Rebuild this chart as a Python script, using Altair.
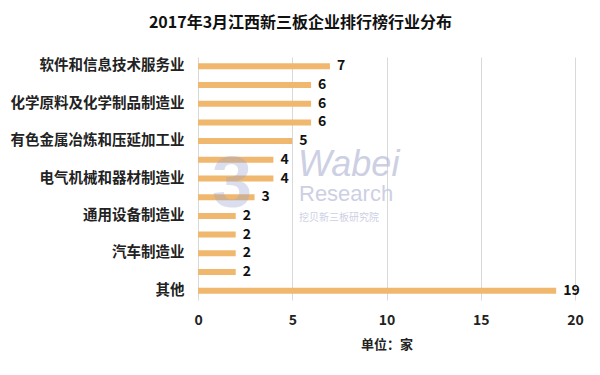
import altair as alt
import pandas as pd

categories = ["软件和信息技术服务业", "专用设备制造业", "化学原料及化学制品制造业", "医药制造业",
              "有色金属冶炼和压延加工业", "非金属矿物制品业", "电气机械和器材制造业",
              "计算机、通信和其他电子设备制造业", "通用设备制造业", "农副食品加工业",
              "汽车制造业", "批发业", "其他"]
values = [7, 6, 6, 6, 5, 4, 4, 3, 2, 2, 2, 2, 19]
shown = [True, False, True, False, True, False, True, False, True, False, True, False, True]

df = pd.DataFrame({"cat": categories, "value": values,
                   "label": [c if s else "" for c, s in zip(categories, shown)]})

label_map = {c: l for c, l in zip(categories, df["label"])}
expr = "{" + ",".join(f"'{k}':'{v}'" for k, v in label_map.items()) + "}[datum.value]"

FONT = "Noto Sans CJK SC"

y_enc = alt.Y("cat:N", sort=categories,
              scale=alt.Scale(paddingInner=0.68, paddingOuter=0.34),
              axis=alt.Axis(title=None, domain=False, ticks=False, grid=False,
                            labelExpr=expr, labelFont=FONT, labelFontWeight="bold",
                            labelFontSize=14.5, labelColor="#222222", labelPadding=14,
                            labelLimit=300))

bars = alt.Chart(df).mark_bar(color="#F0B86E").encode(
    x=alt.X("value:Q", scale=alt.Scale(domain=[0, 20]),
            axis=alt.Axis(values=[0, 5, 10, 15, 20], title="单位：家", domain=False, ticks=False,
                          grid=True, gridColor="#D9D9D9", gridWidth=1, labelFlush=False,
                          labelFont=FONT, labelFontWeight="bold", labelFontSize=14,
                          labelColor="#222222", labelPadding=13,
                          titleFont=FONT, titleFontWeight="bold", titleFontSize=13,
                          titleColor="#222222", titlePadding=11)),
    y=y_enc,
)

texts = alt.Chart(df).mark_text(align="left", baseline="middle", dx=7, font=FONT,
                                fontWeight="bold", fontSize=14, color="#111111").encode(
    x="value:Q", y=alt.Y("cat:N", sort=categories), text="value:Q")

wm1 = alt.Chart(pd.DataFrame({"t": ["Wabei"]})).mark_text(
    align="left", baseline="middle", font="Liberation Sans", fontStyle="italic",
    fontSize=36, color="#B8BCD8", opacity=0.7).encode(
    x=alt.value(100), y=alt.value(108), text="t:N")
wm2 = alt.Chart(pd.DataFrame({"t": ["Research"]})).mark_text(
    align="left", baseline="middle", font="Liberation Sans",
    fontSize=22, color="#B8BCD8", opacity=0.7).encode(
    x=alt.value(101), y=alt.value(137), text="t:N")
wm3 = alt.Chart(pd.DataFrame({"t": ["挖贝新三板研究院"]})).mark_text(
    align="left", baseline="middle", font=FONT,
    fontSize=10, color="#B8BCD8", opacity=0.7).encode(
    x=alt.value(101), y=alt.value(161), text="t:N")
wm4 = alt.Chart(pd.DataFrame({"t": ["3"]})).mark_text(
    align="center", baseline="middle", font="Liberation Sans", fontWeight="bold",
    fontSize=72, color="#9AA3CF", opacity=0.35).encode(
    x=alt.value(34), y=alt.value(128), text="t:N")

chart = alt.layer(bars, texts, wm4, wm1, wm2, wm3).properties(
    width=377, height=243,
    padding={"left": 190, "top": 49, "right": 17, "bottom": 67},
    autosize=alt.AutoSizeParams(type="none"),
    background="white",
    title=alt.TitleParams("2017年3月江西新三板企业排行榜行业分布", font=FONT, fontSize=16,
                          fontWeight="bold", color="#111111", anchor="middle", dx=-86,
                          offset=26),
).configure_view(stroke=None)

chart.save("out.html", embed_options={"renderer": "svg", "actions": False})
